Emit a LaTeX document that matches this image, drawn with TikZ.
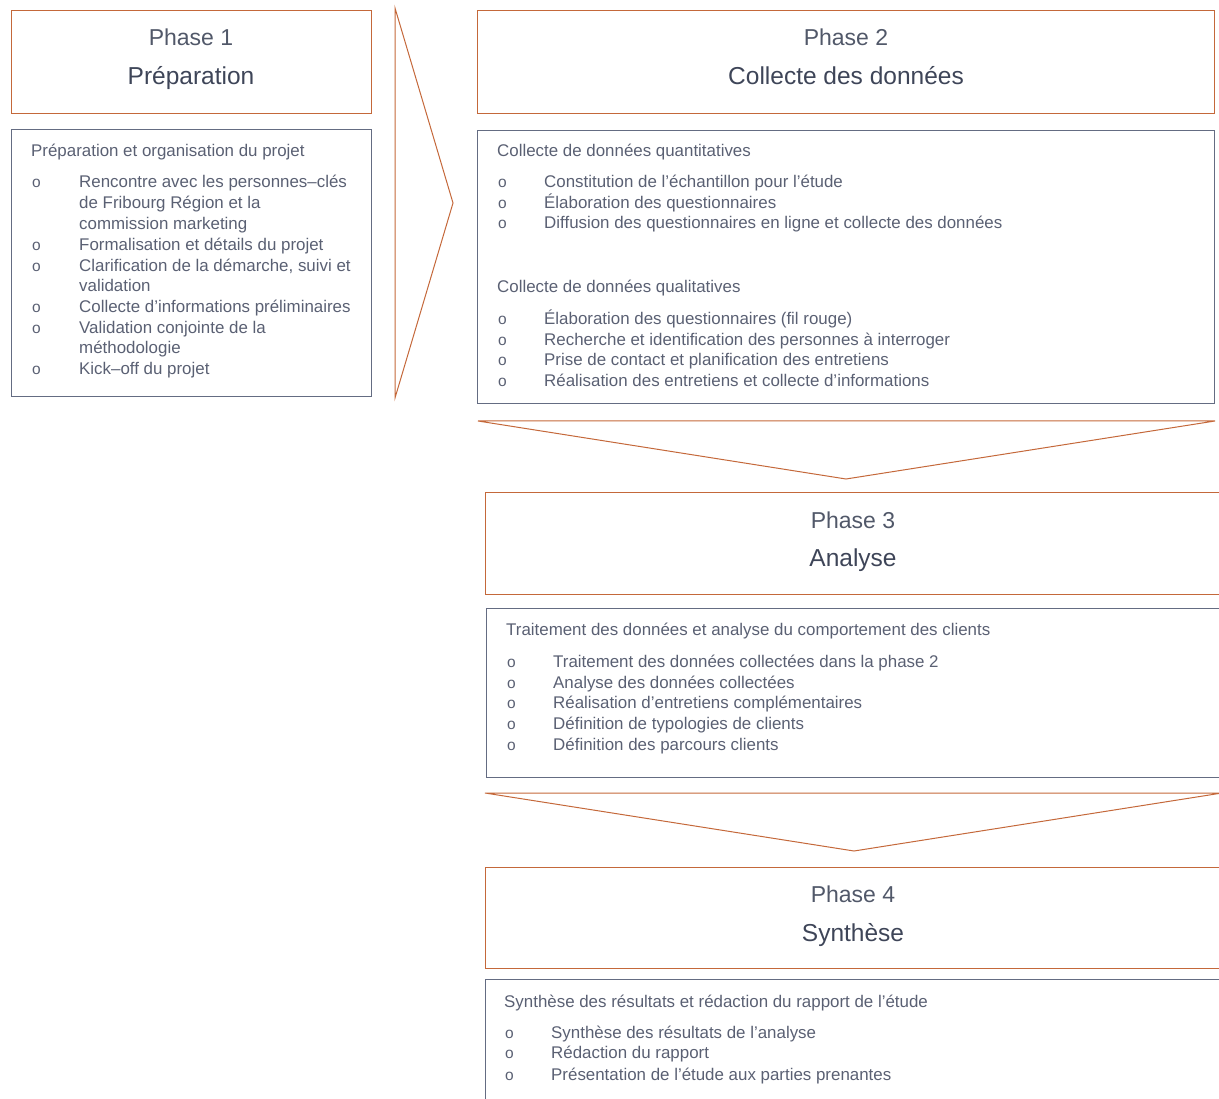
\documentclass[tikz,border=0pt]{standalone}
\usepackage{fontspec}
\setmainfont{Liberation Sans}
\definecolor{orng}{HTML}{C4683A}
\definecolor{slate}{HTML}{646C82}
\definecolor{txt}{HTML}{5A6073}
\definecolor{ttl}{HTML}{3E4558}
\begin{document}
\begin{tikzpicture}[x=1pt,y=-1pt,
  titlebox/.style={draw=orng,line width=1.1pt,anchor=north west,inner sep=0pt,minimum height=103pt},
  contentbox/.style={draw=slate,line width=1.1pt,anchor=north west,inner sep=0pt},
  chev/.style={draw=orng,line width=1pt,line join=miter},
  phnum/.style={text=ttl!90,font=\fontsize{23}{27}\selectfont,anchor=base,inner sep=0pt},
  phname/.style={text=ttl,font=\fontsize{24.5}{29}\selectfont,anchor=base,inner sep=0pt},
  head/.style={text=txt,font=\fontsize{16.9}{20}\selectfont,anchor=base west,inner sep=0pt},
  bul/.style={text=txt,font=\fontsize{15.5}{18}\selectfont,anchor=base west,inner sep=0pt},
  itm/.style={head}]
\useasboundingbox (0,0) rectangle (1219,1099);
\clip (0,0) rectangle (1219,1099);

% ---------- Phase 1 ----------
\node[titlebox,minimum width=360pt] (p1t) at (11,10) {};
\node[phnum] (p1n) at (191,46) {Phase 1};
\node[phname] (p1m) at (191,85) {Préparation};
\node[contentbox,minimum width=360pt,minimum height=267pt] (p1c) at (11,129) {};
\node[head] (p1h) at (31,157) {Préparation et organisation du projet};
\node[bul] (p1b1) at (32,188) {o};
\node[itm] (p1i1a) at (79,188) {Rencontre avec les personnes‒clés};
\node[itm] (p1i1b) at (79,209) {de Fribourg Région et la};
\node[itm] (p1i1c) at (79,230) {commission marketing};
\node[bul] (p1b2) at (32,251) {o};
\node[itm] (p1i2) at (79,251) {Formalisation et détails du projet};
\node[bul] (p1b3) at (32,272) {o};
\node[itm] (p1i3a) at (79,272) {Clarification de la démarche, suivi et};
\node[itm] (p1i3b) at (79,292) {validation};
\node[bul] (p1b4) at (32,313) {o};
\node[itm] (p1i4) at (79,313) {Collecte d’informations préliminaires};
\node[bul] (p1b5) at (32,334) {o};
\node[itm] (p1i5a) at (79,334) {Validation conjointe de la};
\node[itm] (p1i5b) at (79,354) {méthodologie};
\node[bul] (p1b6) at (32,375) {o};
\node[itm] (p1i6) at (79,375) {Kick‒off du projet};

% chevron right
\coordinate (r1) at (395,8);
\coordinate (r2) at (453,203);
\coordinate (r3) at (395,398);
\draw[chev] (r1) -- (r2) -- (r3) -- cycle;

% ---------- Phase 2 ----------
\node[titlebox,minimum width=737pt] (p2t) at (477,10) {};
\node[phnum] (p2n) at (846,46) {Phase 2};
\node[phname] (p2m) at (846,85) {Collecte des données};
\node[contentbox,minimum width=737pt,minimum height=273pt] (p2c) at (477,130) {};
\node[head] (p2h1) at (497,157) {Collecte de données quantitatives};
\node[bul] (p2b1) at (498,188) {o};
\node[itm] (p2i1) at (544,188) {Constitution de l’échantillon pour l’étude};
\node[bul] (p2b2) at (498,209) {o};
\node[itm] (p2i2) at (544,209) {Élaboration des questionnaires};
\node[bul] (p2b3) at (498,229) {o};
\node[itm] (p2i3) at (544,229) {Diffusion des questionnaires en ligne et collecte des données};
\node[head] (p2h2) at (497,293) {Collecte de données qualitatives};
\node[bul] (p2b4) at (498,325) {o};
\node[itm] (p2i4) at (544,325) {Élaboration des questionnaires (fil rouge)};
\node[bul] (p2b5) at (498,346) {o};
\node[itm] (p2i5) at (544,346) {Recherche et identification des personnes à interroger};
\node[bul] (p2b6) at (498,366) {o};
\node[itm] (p2i6) at (544,366) {Prise de contact et planification des entretiens};
\node[bul] (p2b7) at (498,387) {o};
\node[itm] (p2i7) at (544,387) {Réalisation des entretiens et collecte d’informations};

% chevron down 1
\coordinate (d1a) at (478,421);
\coordinate (d1b) at (1215,421);
\coordinate (d1c) at (846,479);
\draw[chev] (d1a) -- (d1b) -- (d1c) -- cycle;

% ---------- Phase 3 ----------
\node[titlebox,minimum width=745pt,minimum height=102pt] (p3t) at (485,492) {};
\node[phnum] (p3n) at (853,528) {Phase 3};
\node[phname] (p3m) at (853,566) {Analyse};
\node[contentbox,minimum width=745pt,minimum height=169pt] (p3c) at (486,608) {};
\node[head] (p3h) at (506,635) {Traitement des données et analyse du comportement des clients};
\node[bul] (p3b1) at (507,667) {o};
\node[itm] (p3i1) at (553,667) {Traitement des données collectées dans la phase 2};
\node[bul] (p3b2) at (507,688) {o};
\node[itm] (p3i2) at (553,688) {Analyse des données collectées};
\node[bul] (p3b3) at (507,708) {o};
\node[itm] (p3i3) at (553,708) {Réalisation d’entretiens complémentaires};
\node[bul] (p3b4) at (507,729) {o};
\node[itm] (p3i4) at (553,729) {Définition de typologies de clients};
\node[bul] (p3b5) at (507,750) {o};
\node[itm] (p3i5) at (553,750) {Définition des parcours clients};

% chevron down 2
\coordinate (d2a) at (485,793);
\coordinate (d2b) at (1222,793);
\coordinate (d2c) at (854,851);
\draw[chev] (d2a) -- (d2b) -- (d2c) -- cycle;

% ---------- Phase 4 ----------
\node[titlebox,minimum width=745pt,minimum height=101pt] (p4t) at (485,867) {};
\node[phnum] (p4n) at (853,902) {Phase 4};
\node[phname] (p4m) at (853,941) {Synthèse};
\node[contentbox,minimum width=745pt,minimum height=140pt] (p4c) at (485,979) {};
\node[head] (p4h) at (504,1007) {Synthèse des résultats et rédaction du rapport de l’étude};
\node[bul] (p4b1) at (505,1038) {o};
\node[itm] (p4i1) at (551,1038) {Synthèse des résultats de l’analyse};
\node[bul] (p4b2) at (505,1058) {o};
\node[itm] (p4i2) at (551,1058) {Rédaction du rapport};
\node[bul] (p4b3) at (505,1080) {o};
\node[itm] (p4i3) at (551,1080) {Présentation de l’étude aux parties prenantes};
\end{tikzpicture}
\end{document}
